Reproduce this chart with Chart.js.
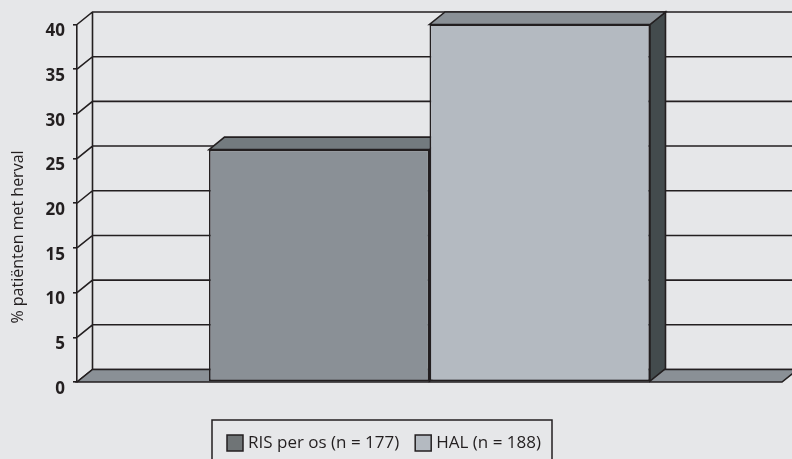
<!DOCTYPE html>
<html lang="nl">
<head>
  <meta charset="UTF-8">
  <title>Herval: RIS per os vs HAL</title>
  <script src="https://cdn.jsdelivr.net/npm/chart.js"></script>
  <style>
    html, body {
      margin: 0;
      padding: 0;
      background: #e6e7e9;
    }
    canvas {
      display: block;
    }
  </style>
</head>
<body>
  <canvas id="chart" width="792" height="459"></canvas>

  <script>
    const categories = [""];
    const seriesLabels = ["RIS per os (n = 177)", "HAL (n = 188)"];
    const risValues = [26];
    const halValues = [40];
    const yTicks = [0, 5, 10, 15, 20, 25, 30, 35, 40];
    const yTitle = "% patiënten met herval";

    const INK = "#231f20";
    const DEPTH_X = 15.5;
    const DEPTH_Y = -12.5;

    // front / top / side shade per bar, plus the legend swatch
    const shades = [
      { front: "#8a9096", top: "#737b7f", side: "#4a5254", swatch: "#6f7476" },
      { front: "#b4bac1", top: "#8a9096", side: "#434b4d", swatch: "#b4bac1" }
    ];

    function poly(ctx, pts, fill) {
      ctx.beginPath();
      ctx.moveTo(pts[0][0], pts[0][1]);
      for (let i = 1; i < pts.length; i++) ctx.lineTo(pts[i][0], pts[i][1]);
      ctx.closePath();
      ctx.fillStyle = fill;
      ctx.fill();
      ctx.stroke();
    }

    // back wall, floor and the depth faces of each bar
    const depthPlugin = {
      id: "depth",
      beforeDatasetsDraw(chart) {
        const { ctx, chartArea: a, scales: { y } } = chart;
        ctx.save();
        ctx.strokeStyle = INK;
        ctx.lineWidth = 1.6;
        ctx.lineJoin = "miter";

        // back wall edge and gridlines, with diagonals to the front axis
        ctx.beginPath();
        ctx.moveTo(a.left + DEPTH_X, a.bottom + DEPTH_Y);
        ctx.lineTo(a.left + DEPTH_X, a.top + DEPTH_Y);
        yTicks.forEach(v => {
          const py = y.getPixelForValue(v);
          ctx.moveTo(a.left, py);
          ctx.lineTo(a.left + DEPTH_X, py + DEPTH_Y);
          ctx.lineTo(chart.width + 20, py + DEPTH_Y);
        });
        ctx.stroke();

        // floor
        poly(ctx, [
          [a.left, a.bottom],
          [a.right, a.bottom],
          [a.right + DEPTH_X, a.bottom + DEPTH_Y],
          [a.left + DEPTH_X, a.bottom + DEPTH_Y]
        ], "#8a9096");

        // side and top faces; front faces are drawn by the bar datasets
        chart.data.datasets.forEach((ds, i) => {
          chart.getDatasetMeta(i).data.forEach(bar => {
            const l = bar.x - bar.width / 2;
            const r = bar.x + bar.width / 2;
            poly(ctx, [
              [r, bar.y], [r + DEPTH_X, bar.y + DEPTH_Y],
              [r + DEPTH_X, bar.base + DEPTH_Y], [r, bar.base]
            ], shades[i].side);
            poly(ctx, [
              [l, bar.y], [r, bar.y],
              [r + DEPTH_X, bar.y + DEPTH_Y], [l + DEPTH_X, bar.y + DEPTH_Y]
            ], shades[i].top);
          });
        });
        ctx.restore();
      },
      afterDraw(chart) {
        const { ctx } = chart;
        ctx.save();

        // axis title
        ctx.translate(18, 237);
        ctx.rotate(-Math.PI / 2);
        ctx.fillStyle = INK;
        ctx.font = "16px 'Open Sans'";
        ctx.textAlign = "center";
        ctx.textBaseline = "middle";
        ctx.fillText(yTitle, 0, 0);
        ctx.restore();

        // boxed legend
        ctx.save();
        ctx.strokeStyle = INK;
        ctx.lineWidth = 1.5;
        ctx.strokeRect(212, 420, 340, 60);
        ctx.font = "17px 'Open Sans'";
        ctx.textBaseline = "middle";
        let x = 227;
        chart.data.datasets.forEach((ds, i) => {
          ctx.fillStyle = shades[i].swatch;
          ctx.fillRect(x, 435, 16, 16);
          ctx.strokeRect(x, 435, 16, 16);
          ctx.fillStyle = INK;
          ctx.fillText(ds.label, x + 21, 443);
          x += 21 + ctx.measureText(ds.label).width + 16;
        });
        ctx.restore();
      }
    };

    new Chart(document.getElementById("chart"), {
      type: "bar",
      data: {
        labels: categories,
        datasets: [
          {
            label: seriesLabels[0],
            data: risValues,
            backgroundColor: shades[0].front,
            borderColor: INK,
            borderWidth: 1.6,
            borderSkipped: false
          },
          {
            label: seriesLabels[1],
            data: halValues,
            backgroundColor: shades[1].front,
            borderColor: INK,
            borderWidth: 1.6,
            borderSkipped: false
          }
        ]
      },
      options: {
        responsive: false,
        animation: false,
        layout: {
          padding: { left: 0, right: 10, top: 24.5, bottom: 77 }
        },
        datasets: {
          bar: { categoryPercentage: 0.6255, barPercentage: 1 }
        },
        plugins: {
          legend: { display: false },
          tooltip: { enabled: false }
        },
        scales: {
          x: { display: false },
          y: {
            min: 0,
            max: 40,
            afterFit: scale => { scale.width = 77; },
            afterBuildTicks: scale => { scale.ticks = yTicks.map(v => ({ value: v })); },
            grid: {
              drawOnChartArea: false,
              drawTicks: true,
              tickLength: 4,
              color: INK,
              lineWidth: 1.6
            },
            border: { display: true, color: INK, width: 1.6 },
            ticks: {
              padding: 8,
              labelOffset: 7,
              color: INK,
              font: { family: "'Open Sans'", size: 17, weight: "bold" }
            }
          }
        }
      },
      plugins: [depthPlugin]
    });
  </script>
</body>
</html>
